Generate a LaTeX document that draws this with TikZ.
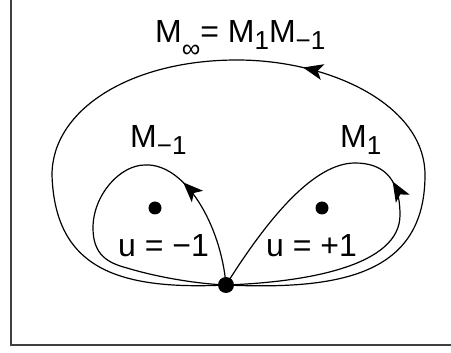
\documentclass[tikz,border=0pt]{standalone}
\usepackage{fontspec}
\setmainfont{Liberation Sans}
\usetikzlibrary{arrows.meta,decorations.markings}
\newcommand{\lowsub}[2][7pt]{\raisebox{-#1}{\fontsize{26}{28}\selectfont #2}}

\begin{document}
\begin{tikzpicture}[x=1pt, y=-1pt, >=Stealth,
  curve/.style={draw, line width=1.2pt},
  midarrow/.style={postaction={decorate, decoration={markings,
    mark=at position #1 with {\arrow{Stealth[length=20pt, width=16pt, inset=5pt]}}}}},
  pole/.style={circle, fill, inner sep=0pt, minimum size=13pt},
  lbl/.style={font=\fontsize{32}{36}\selectfont, inner sep=0pt}]
\useasboundingbox (0,0) rectangle (451,353);
% frame
\draw[line width=2pt, black!75] (11,-2) -- (11,345) -- (453,345);
% base point and poles
\coordinate (base) at (226,285);
\node[pole] (pm) at (155,208) {};
\node[pole] (pp) at (322,208) {};
% outer loop
\path[curve, midarrow=0.445] (base)
  .. controls (340,290) and (425,275) .. (425,175)
  .. controls (425,105) and (330,60) .. (237,60)
  .. controls (130,60) and (52,110) .. (52,175)
  .. controls (55,270) and (120,290) .. (base);
% loop round u = -1
\path[curve, midarrow=0.28] (base)
  .. controls (221,225) and (185,163) .. (145,165)
  .. controls (120,165) and (93,195) .. (93,228)
  .. controls (93,255) and (108,263) .. (127,268)
  .. controls (160,278) and (200,284) .. (base);
% loop round u = +1
\path[curve, midarrow=0.51] (base)
  .. controls (310,282) and (400,265) .. (400,215)
  .. controls (400,175) and (380,163) .. (355,163)
  .. controls (315,163) and (270,215) .. (base);
\node[circle, fill, inner sep=0pt, minimum size=16pt] (bp) at (base) {};
% labels
\node[lbl, anchor=base west] (minf) at (155,43) {M\lowsub[15pt]{∞}= M\lowsub{1}M\lowsub{−1}};
\node[lbl, anchor=base west] (mm) at (130,148) {M\lowsub{−1}};
\node[lbl, anchor=base west] (mp) at (340,148) {M\lowsub{1}};
\node[lbl, anchor=base west] (um) at (118,257) {u = −1};
\node[lbl, anchor=base west] (up) at (266,257) {u = +1};
\end{tikzpicture}
\end{document}
